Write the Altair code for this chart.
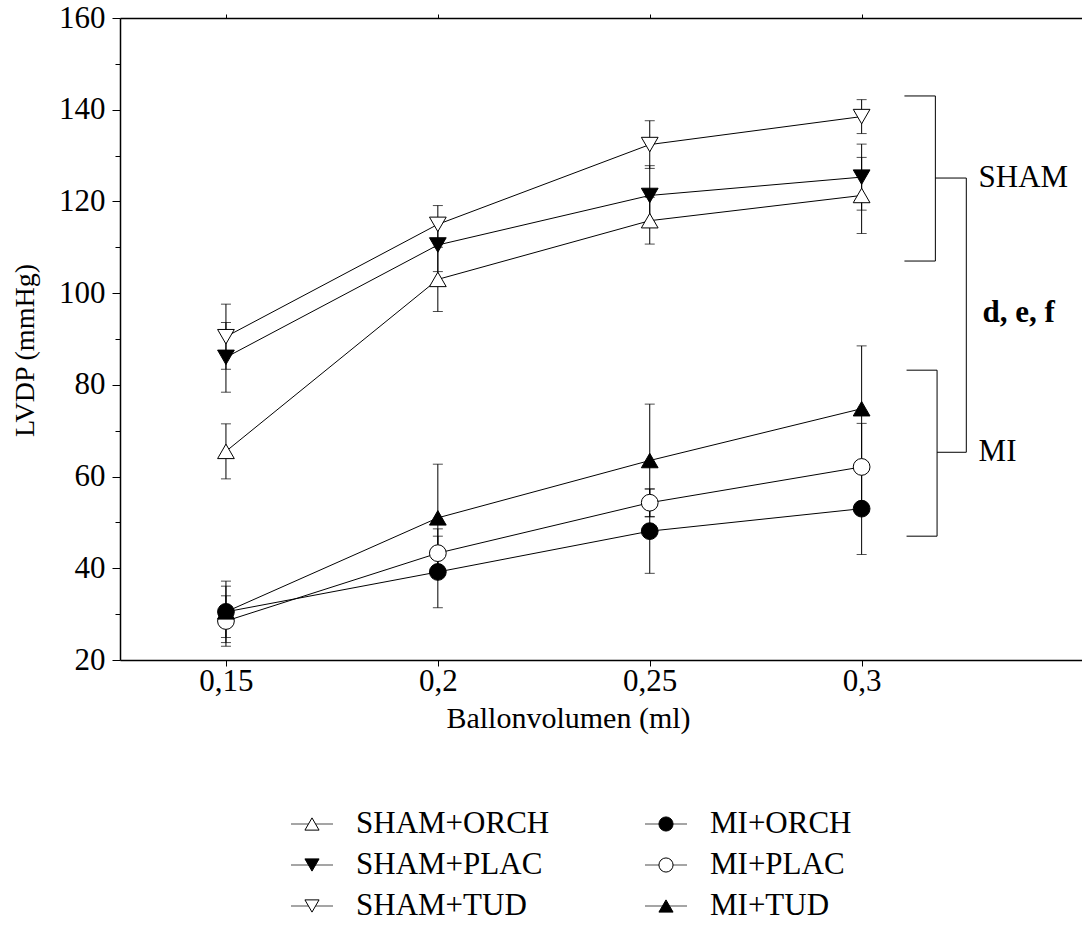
import altair as alt
import pandas as pd

# ---------------- data ----------------
x_vals = [0.15, 0.2, 0.25, 0.3]
y_ticks = [20, 30, 40, 50, 60, 70, 80, 90, 100, 110, 120, 130, 140, 150, 160]

series_names = ["SHAM+ORCH", "SHAM+PLAC", "SHAM+TUD", "MI+ORCH", "MI+PLAC", "MI+TUD"]

sham_orch = [65.5, 103.0, 115.8, 121.3]
sham_orch_se = [6.0, 7.0, 5.1, 8.3]
sham_plac = [86.0, 110.5, 121.3, 125.3]
sham_plac_se = [7.6, 5.8, 6.5, 7.2]
sham_tud = [90.5, 115.0, 132.4, 138.5]
sham_tud_se = [7.1, 4.1, 5.2, 3.7]
mi_orch = [30.5, 39.2, 48.1, 53.0]
mi_orch_se = [6.7, 7.8, 9.2, 10.0]
mi_plac = [28.5, 43.3, 54.3, 62.1]
mi_plac_se = [5.5, 5.3, 3.0, 9.5]
mi_tud = [30.5, 51.0, 63.5, 74.8]
mi_tud_se = [5.6, 11.7, 12.3, 13.7]

means = [sham_orch, sham_plac, sham_tud, mi_orch, mi_plac, mi_tud]
ses = [sham_orch_se, sham_plac_se, sham_tud_se, mi_orch_se, mi_plac_se, mi_tud_se]

shapes = ["triangle-up", "triangle-down", "triangle-down", "circle", "circle", "triangle-up"]
fills = ["white", "black", "white", "black", "white", "black"]
plot_sizes = [280, 280, 280, 324, 324, 280]
legend_sizes = [200, 200, 200, 256, 256, 200]

legend_col = [0, 0, 0, 1, 1, 1]
legend_row = [0, 1, 2, 0, 1, 2]

# bracket annotation (data units)
seg_x1 = [0.3101, 0.3101, 0.3174, 0.3174, 0.3106, 0.3106, 0.3178, 0.3178, 0.3247]
seg_x2 = [0.3174, 0.3174, 0.3174, 0.3247, 0.3178, 0.3178, 0.3178, 0.3247, 0.3247]
seg_y1 = [143.0, 107.0, 143.0, 125.1, 83.2, 47.0, 83.2, 65.3, 125.1]
seg_y2 = [143.0, 107.0, 107.0, 125.1, 83.2, 47.0, 47.0, 65.3, 65.3]

ann_text = ["SHAM", "MI"]
ann_x = [0.3276, 0.3276]
ann_y = [125.1, 65.3]
bold_text = ["d, e, f"]
bold_x = [0.3285]
bold_y = [95.7]

# ---------------- tables ----------------
rows = []
for name, m, s in zip(series_names, means, ses):
    for xv, mv, sv in zip(x_vals, m, s):
        rows.append({"series": name, "x": xv, "mean": mv, "lo": mv - sv, "hi": mv + sv})
df = pd.DataFrame(rows)
caps = pd.concat([
    df[["series", "x", "lo"]].rename(columns={"lo": "cap"}),
    df[["series", "x", "hi"]].rename(columns={"hi": "cap"}),
])
segs = pd.DataFrame({"x1": seg_x1, "x2": seg_x2, "y1": seg_y1, "y2": seg_y2})
ann = pd.DataFrame({"t": ann_text, "x": ann_x, "y": ann_y})
bold = pd.DataFrame({"t": bold_text, "x": bold_x, "y": bold_y})
leg = pd.DataFrame({"series": series_names, "col": legend_col, "row": legend_row})

FONT = "Liberation Serif"

xscale = alt.Scale(domain=[0.125, 0.352], nice=False, zero=False)
yscale = alt.Scale(domain=[20, 160], nice=False, zero=False)

bottom_axis = alt.Axis(
    values=x_vals, labelExpr="replace(toString(datum.value), '.', ',')",
    tickSize=6, labelPadding=15, labelBaseline="middle", labelFontSize=31,
    title="Ballonvolumen (ml)", titleFontSize=30, titleFontWeight="normal",
    titleX=448, titleY=58, titleBaseline="middle", grid=False,
    domainWidth=1.5, tickWidth=1,
)
top_axis = alt.Axis(
    orient="top", values=x_vals, labels=False, tickSize=4, title=None,
    grid=False, domainWidth=1.5, tickWidth=1,
)
yaxis = alt.Axis(
    values=y_ticks, labelExpr="datum.value % 20 === 0 ? datum.label : ''",
    tickSize={"condition": {"test": "datum.value % 20 === 0", "value": 8}, "value": 5},
    labelPadding=7, labelFontSize=31, title="LVDP (mmHg)", titleFontSize=28,
    titleFontWeight="normal", titleX=-95, titleY=332, titleBaseline="middle",
    grid=False, domainWidth=1.5, tickWidth=1,
)

shape_enc = alt.Shape("series:N", scale=alt.Scale(domain=series_names, range=shapes), legend=None)
fill_enc = alt.Fill("series:N", scale=alt.Scale(domain=series_names, range=fills), legend=None)

err = alt.Chart(df).mark_rule(color="black", strokeWidth=1).encode(
    x=alt.X("x:Q", scale=xscale, axis=bottom_axis),
    y=alt.Y("lo:Q", scale=yscale, axis=yaxis, title="LVDP (mmHg)"),
    y2="hi:Q",
)
capm = alt.Chart(caps).mark_tick(orient="horizontal", size=10, thickness=1, color="black").encode(
    x=alt.X("x:Q", scale=xscale, axis=top_axis),
    y=alt.Y("cap:Q", scale=yscale, title="LVDP (mmHg)"),
)
lines = alt.Chart(df).mark_line(color="black", strokeWidth=1).encode(
    x=alt.X("x:Q", scale=xscale, axis=None),
    y=alt.Y("mean:Q", scale=yscale, title="LVDP (mmHg)"),
    detail="series:N",
    order="x:Q",
)
pts = alt.Chart(df).mark_point(opacity=1, fillOpacity=1, stroke="black", strokeWidth=1).encode(
    x=alt.X("x:Q", scale=xscale, axis=None),
    y=alt.Y("mean:Q", scale=yscale, title="LVDP (mmHg)"),
    shape=shape_enc,
    fill=fill_enc,
    size=alt.Size("series:N", scale=alt.Scale(domain=series_names, range=plot_sizes), legend=None),
)
segm = alt.Chart(segs).mark_rule(color="black", strokeWidth=1).encode(
    x=alt.X("x1:Q", scale=xscale, axis=None),
    x2="x2:Q",
    y=alt.Y("y1:Q", scale=yscale, title="LVDP (mmHg)"),
    y2="y2:Q",
)
annm = alt.Chart(ann).mark_text(align="left", baseline="middle", font=FONT, fontSize=31, color="black").encode(
    x=alt.X("x:Q", scale=xscale, axis=None),
    y=alt.Y("y:Q", scale=yscale, title="LVDP (mmHg)"),
    text="t:N",
)
boldm = alt.Chart(bold).mark_text(align="left", baseline="middle", font=FONT, fontSize=31,
                                  fontWeight="bold", color="black").encode(
    x=alt.X("x:Q", scale=xscale, axis=None),
    y=alt.Y("y:Q", scale=yscale, title="LVDP (mmHg)"),
    text="t:N",
)

main = alt.layer(err, capm, lines, pts, segm, annm, boldm).resolve_axis(x="independent")

lx = alt.X("col:Q", scale=alt.Scale(domain=[0, 1], range=[192, 546], nice=False, zero=False), axis=None)
ly = alt.Y("row:Q", scale=alt.Scale(domain=[0, 2], range=[806, 888], nice=False, zero=False), axis=None)

leg_line = alt.Chart(leg).mark_tick(orient="horizontal", size=42, thickness=1, color="black").encode(x=lx, y=ly)
leg_pts = alt.Chart(leg).mark_point(opacity=1, fillOpacity=1, stroke="black", strokeWidth=1).encode(
    x=lx, y=ly, shape=shape_enc, fill=fill_enc,
    size=alt.Size("series:N", scale=alt.Scale(domain=series_names, range=legend_sizes), legend=None),
)
leg_txt = alt.Chart(leg).mark_text(align="left", baseline="middle", dx=44, font=FONT, fontSize=31,
                                   color="black").encode(x=lx, y=ly, text="series:N")
legend = alt.layer(leg_line, leg_pts, leg_txt)

chart = alt.layer(main, legend).resolve_scale(x="independent", y="independent", size="independent").properties(
    width=962, height=642,
    autosize=alt.AutoSizeParams(type="none"),
    padding={"left": 120, "top": 18, "right": 0, "bottom": 262},
    background="white",
).configure_view(stroke=None).configure_axis(
    domainColor="black", tickColor="black", labelColor="black", titleColor="black",
    labelFont=FONT, titleFont=FONT,
)

chart.save("out.html", embed_options={"renderer": "svg", "actions": False})
